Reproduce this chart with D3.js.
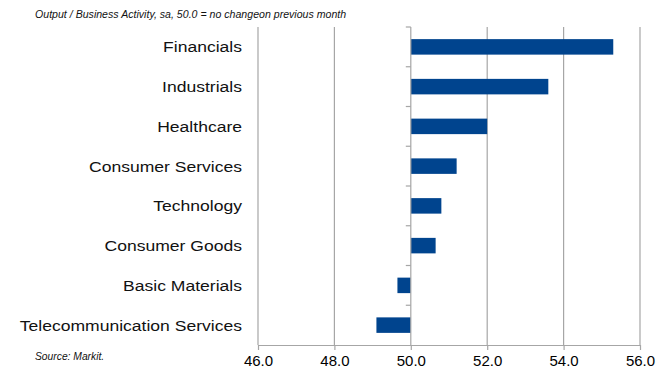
<!DOCTYPE html>
<html><head><meta charset="utf-8">
<script src="https://cdn.jsdelivr.net/npm/d3@7"></script>
<style>body{margin:0;background:#fff}svg{display:block}</style>
</head><body><svg id="c" width="668" height="367"></svg>
<script>
const categories = ["Financials","Industrials","Healthcare","Consumer Services","Technology","Consumer Goods","Basic Materials","Telecommunication Services"];
const values = [55.3,53.6,52.0,51.2,50.8,50.65,49.65,49.1];
const xTicks = [46,48,50,52,54,56];
const baseline = 50;
const titleText = "Output / Business Activity, sa, 50.0 = no changeon previous month";
const sourceText = "Source: Markit.";

const svg = d3.select("#c");
const font = "'Liberation Sans', Arial, sans-serif";
const x = d3.scaleLinear().domain([46,56]).range([258,640]);
const y = d3.scaleBand().domain(categories).range([27,345]).paddingInner(0.61).paddingOuter(0.305);
const yb = d3.scaleBand().domain(categories).range([27,345]);
const grid = "#a6a6a6";

// gridlines
svg.append("g").selectAll("line").data(xTicks.filter(d=>d!==baseline)).join("line")
  .attr("x1",d=>x(d)).attr("x2",d=>x(d)).attr("y1",27).attr("y2",345)
  .attr("stroke",grid).attr("stroke-width",1.2);

// bars
svg.append("g").selectAll("rect").data(categories).join("rect")
  .attr("x",(d,i)=>x(Math.min(values[i],baseline)))
  .attr("width",(d,i)=>Math.abs(x(values[i])-x(baseline)))
  .attr("y",d=>y(d)).attr("height",y.bandwidth())
  .attr("fill","#00448e");

// x axis
const xa = svg.append("g").attr("transform","translate(0,345)")
  .call(d3.axisBottom(x).tickValues(xTicks).tickFormat(d3.format(".1f")).tickSize(5).tickSizeOuter(0));
xa.select(".domain").attr("stroke",grid).attr("stroke-width",1.2);
xa.selectAll(".tick line").attr("stroke",grid).attr("stroke-width",1.2);
xa.selectAll("text").attr("font-family",font).attr("font-size",15).attr("fill","#000").attr("dy",null).attr("y",20.5);

// y axis at baseline
const bounds = categories.map(c=>yb(c));
svg.append("line").attr("x1",x(baseline)).attr("x2",x(baseline)).attr("y1",27).attr("y2",345)
  .attr("stroke",grid).attr("stroke-width",1.2);
svg.append("g").selectAll("line").data(bounds).join("line")
  .attr("x1",x(baseline)-5).attr("x2",x(baseline)).attr("y1",d=>d).attr("y2",d=>d)
  .attr("stroke",grid).attr("stroke-width",1.2);

// category labels (slightly wide glyphs, as in the reference)
const sx = 1.17;
svg.append("g").attr("transform",`translate(242,0) scale(${sx},1)`)
  .selectAll("text").data(categories).join("text")
  .attr("x",0).attr("y",d=>yb(d)+yb.bandwidth()/2).attr("dy","0.36em")
  .attr("text-anchor","end").attr("font-family",font).attr("font-size",15).attr("fill","#111")
  .text(d=>d);

svg.append("text").attr("transform","translate(35,17.5) scale(1.06,1)").attr("font-family",font).attr("font-size",10)
  .attr("font-style","italic").attr("fill","#111").text(titleText);
svg.append("text").attr("transform","translate(35,360) scale(1.03,1)").attr("font-family",font).attr("font-size",10)
  .attr("font-style","italic").attr("fill","#111").text(sourceText);
</script></body></html>
